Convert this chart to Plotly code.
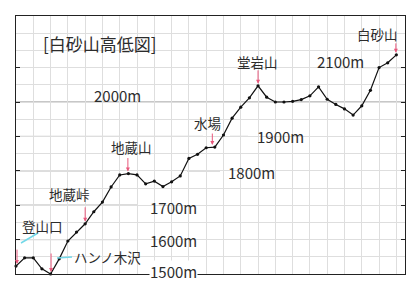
import plotly.graph_objects as go

# ---- data ----
dist = list(range(45))
elev = [1523, 1547, 1547, 1515, 1500, 1544, 1596, 1622, 1646, 1681,
        1709, 1753, 1788, 1792, 1788, 1762, 1770, 1754, 1768, 1785,
        1836, 1848, 1867, 1869, 1904, 1953, 1985, 2012, 2047, 2014,
        2000, 2000, 2002, 2007, 2018, 2044, 2008, 1993, 1980, 1962,
        1989, 2034, 2100, 2114, 2137]

place_names = ["登山口", "ハンノ木沢", "地蔵峠", "地蔵山", "水場", "堂岩山", "白砂山"]
place_idx = [0, 4, 8, 13, 23, 28, 44]

level_vals = [1500, 1600, 1700, 1800, 1900, 2000, 2100]
level_text = ["1500m", "1600m", "1700m", "1800m", "1900m", "2000m", "2100m"]

title_text = "[白砂山高低図]"

# ---- layout helpers (pixel -> data) ----
L, R, T, B = 16, 405, 16, 274
XMAX = 45
YMIN, YMAX = 1500, 2250


def px_x(p):
    return (p - L) / (R - L) * XMAX


def px_y(p):
    return YMIN + (B - p) / (B - T) * (YMAX - YMIN)


FONT = "Noto Sans CJK JP, Noto Sans, sans-serif"
TXT = "#2c2c2c"
ARROW = "#e8587c"
CYAN = "#72d8e8"
MAJOR = "#8e8e8e"

fig = go.Figure()
fig.add_trace(go.Scatter(
    x=dist, y=elev, mode="lines+markers",
    line=dict(color="#111111", width=1.2),
    marker=dict(color="#111111", size=3.2),
    cliponaxis=False, hoverinfo="skip", showlegend=False))

shapes = []
# major level lines (segments in pixel extents)
level_segments = {
    1600: [(16, 137)],
    1700: [(16, 137)],
    1800: [(16, 110), (187, 220)],
    1900: [(16, 203), (230, 248)],
    2000: [(16, 405)],
    2100: [(330, 405)],
}
for v in level_vals:
    for a, b in level_segments.get(v, []):
        shapes.append(dict(type="line", xref="x", yref="y",
                           x0=px_x(a), x1=px_x(b), y0=v, y1=v,
                           line=dict(color=MAJOR, width=1), layer="below"))

# cyan leader lines
for (a, b, c, d) in [(21, 243, 38, 233), (57, 258, 72, 257)]:
    shapes.append(dict(type="line", xref="x", yref="y",
                       x0=px_x(a), y0=px_y(b), x1=px_x(c), y1=px_y(d),
                       line=dict(color=CYAN, width=1.5)))

annotations = []
# title
annotations.append(dict(text=title_text, x=px_x(100), y=px_y(43), xref="x", yref="y",
                        showarrow=False, font=dict(family=FONT, size=17, color=TXT)))

# level labels (pixel centers)
level_pos = {1500: (173, 271), 1600: (173, 240), 1700: (173, 207), 1800: (251, 172),
             1900: (280, 136), 2000: (117, 95), 2100: (340, 61)}
for v, t in zip(level_vals, level_text):
    cx, cy = level_pos[v]
    a = dict(text=t, x=px_x(cx), y=px_y(cy), xref="x", yref="y", showarrow=False,
             font=dict(family=FONT, size=15, color=TXT))
    if v == 1500:
        a.update(bgcolor="white", borderpad=0)
    annotations.append(a)

# place labels and arrows
label_pos = [(42, 226), (107, 257), (69, 194), (131, 147), (207, 123), (257, 62), (377, 34)]
arrow_len = [18, 22, 18, 17, 15, 17, 13]
arrow_dx = [1, 0.5, 0, -0.5, -2.5, 0, -0.5]
for name, i, (cx, cy), ln, dx in zip(place_names, place_idx, label_pos, arrow_len, arrow_dx):
    annotations.append(dict(text=name, x=px_x(cx), y=px_y(cy), xref="x", yref="y",
                            showarrow=False, font=dict(family=FONT, size=13.5, color=TXT)))
    annotations.append(dict(text="", x=dist[i] + dx / ((R - L) / XMAX), y=elev[i],
                            xref="x", yref="y", showarrow=True, ax=0, ay=-ln,
                            standoff=2, arrowhead=2, arrowsize=0.8, arrowwidth=1,
                            arrowcolor=ARROW))

fig.update_layout(
    width=420, height=288,
    margin=dict(l=L, r=420 - R, t=T, b=288 - B),
    paper_bgcolor="white", plot_bgcolor="white",
    shapes=shapes, annotations=annotations,
    xaxis=dict(range=[0, XMAX], showgrid=True, dtick=2, tick0=0, gridcolor="#dedede",
               gridwidth=1, zeroline=False, showticklabels=False, ticks="",
               showline=True, mirror=True, linecolor="#222222", linewidth=1.2,
               fixedrange=True),
    yaxis=dict(range=[YMIN, YMAX], tickvals=level_vals[1:], showticklabels=False,
               ticks="inside", ticklen=4, tickcolor="#222222", showgrid=True,
               gridcolor="#dedede", gridwidth=1, zeroline=False,
               minor=dict(dtick=50, tick0=1500, showgrid=True, gridcolor="#dedede"),
               showline=True, mirror="ticks", linecolor="#222222", linewidth=1.2,
               fixedrange=True),
)

fig.write_html("out.html")
